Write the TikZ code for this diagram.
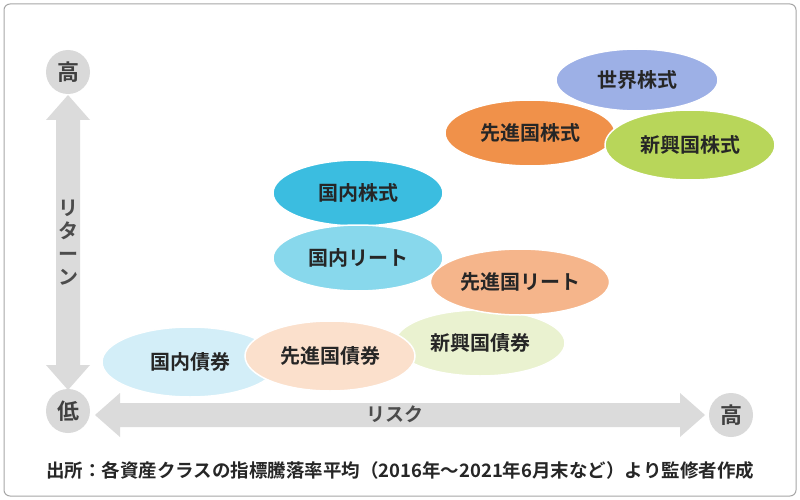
\documentclass[tikz,border=0pt]{standalone}
\usepackage{fontspec}
\setmainfont{Noto Sans CJK JP}[BoldFont={* Bold}]
\usetikzlibrary{shapes.geometric}
\begin{document}
\begin{tikzpicture}[x=1pt,y=-1pt,
  blob/.style={draw=white,line width=1.5pt,ellipse,minimum width=170pt,minimum height=66pt,font=\fontsize{20}{22}\selectfont\bfseries,text=black!85},
  circ/.style={circle,fill=black!15,minimum size=44pt,font=\fontsize{22}{24}\selectfont\bfseries,text=black!75},
  arr/.style={fill=black!14}]
\useasboundingbox (0,0) rectangle (800,500);
\draw[black!35,line width=1pt,rounded corners=6pt,fill=white] (4,4) rectangle (796,496);
\fill[arr] (68,95) -- (90,120) -- (80,120) -- (80,365) -- (90,365) -- (68,390) -- (46,365) -- (56,365) -- (56,120) -- (46,120) -- cycle;
\fill[arr] (95,415) -- (120,393) -- (120,403) -- (680,403) -- (680,393) -- (705,415) -- (680,437) -- (680,427) -- (120,427) -- (120,437) -- cycle;
\node[circ] (hi1) at (68,72) {高};
\node[circ] (lo) at (68,411) {低};
\node[circ] (hi2) at (731,415) {高};
\node[font=\fontsize{20}{23}\selectfont\bfseries,text=black!70,align=center] (ret) at (68,243) {リ\\タ\\ー\\ン};
\node[font=\fontsize{19}{21}\selectfont\bfseries,text=black!70] (risk) at (395,414) {リスク};
\node[blob,fill={rgb,255:red,157;green,176;blue,230},minimum width=162pt,minimum height=62pt] (ws) at (637,80) {世界株式};
\node[blob,fill={rgb,255:red,240;green,145;blue,74}] (sk) at (530,133) {先進国株式};
\node[blob,fill={rgb,255:red,184;green,214;blue,90},minimum height=70pt] (sh) at (690,145) {新興国株式};
\node[blob,fill={rgb,255:red,59;green,189;blue,224}] (kk) at (358,193) {国内株式};
\node[blob,fill={rgb,255:red,136;green,216;blue,236}] (kr) at (358,258) {国内リート};
\node[blob,fill={rgb,255:red,234;green,242;blue,208}] (sb) at (480,343) {新興国債券};
\node[blob,fill={rgb,255:red,245;green,181;blue,139}] (sr) at (520,282) {先進国リート};
\node[blob,fill={rgb,255:red,211;green,238;blue,248},minimum width=176pt,minimum height=70pt] (kb) at (190,362) {国内債券};
\node[blob,fill={rgb,255:red,251;green,224;blue,204},minimum height=70pt] (skb) at (330,356) {先進国債券};
\node[font=\fontsize{18.5}{20}\selectfont\bfseries,text=black!85] (src) at (400,470) {出所：各資産クラスの指標騰落率平均（2016年～2021年6月末など）より監修者作成};
\end{tikzpicture}
\end{document}
